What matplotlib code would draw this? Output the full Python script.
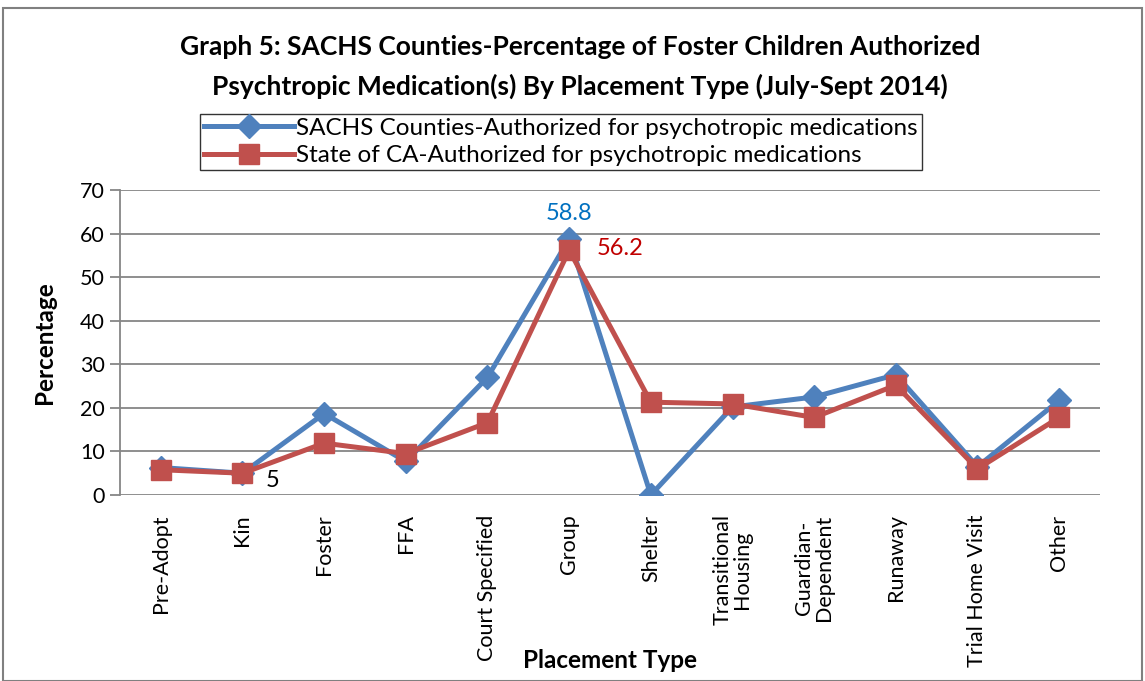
import matplotlib
matplotlib.use("Agg")
import matplotlib.pyplot as plt
from matplotlib.patches import Rectangle

plt.rcParams['font.family'] = ['Lato', 'DejaVu Sans']

categories = ["Pre-Adopt", "Kin", "Foster", "FFA", "Court Specified", "Group", "Shelter",
              "Transitional\nHousing", "Guardian-\nDependent", "Runaway", "Trial Home Visit", "Other"]
sachs = [6.3, 5.0, 18.7, 7.7, 27.0, 58.8, 0.0, 20.2, 22.5, 27.6, 6.5, 21.7]
state = [5.8, 5.0, 11.9, 9.5, 16.6, 56.2, 21.3, 20.9, 17.8, 25.2, 6.0, 17.8]
sachs_label = "SACHS Counties-Authorized for psychotropic medications"
state_label = "State of CA-Authorized for psychotropic medications"
yticks = [0, 10, 20, 30, 40, 50, 60, 70]

fig = plt.figure(figsize=(11.45, 6.81), dpi=100)
fig.patches.append(Rectangle((3/1145, 0), 1139/1145, 1 - 8/681, transform=fig.transFigure,
                             fill=False, edgecolor='#808080', linewidth=1.5))

ax = fig.add_axes([120/1145, 1 - 495/681, 980/1145, 305/681])
x = list(range(len(categories)))
ax.plot(x, sachs, color='#4F81BD', linewidth=3.6, marker='D', markersize=12, label=sachs_label, zorder=3)
ax.plot(x, state, color='#C0504D', linewidth=3.6, marker='s', markersize=14, label=state_label, zorder=4)

ax.set_xlim(-0.5, len(categories) - 0.5)
ax.set_ylim(0, 70)
ax.set_yticks(yticks)
ax.set_xticks(x)
ax.set_xticklabels(categories, rotation=90, fontsize=15.5, linespacing=1.0)
ax.tick_params(axis='y', labelsize=15.5, length=7, color='#868686', width=1.3, pad=4)
ax.tick_params(axis='x', length=0, pad=14)
ax.grid(axis='y', color='#868686', linewidth=1.3)
ax.set_axisbelow(True)
for s in ['top', 'right', 'bottom']:
    ax.spines[s].set_visible(False)
ax.spines['left'].set_color('#868686')
ax.spines['left'].set_linewidth(1.3)

ax.set_ylabel("Percentage", fontsize=17.5, fontweight='bold', va='center')
ax.yaxis.set_label_coords((45 - 120) / 980, 0.5)
ax.set_xlabel("Placement Type", fontsize=17.5, fontweight='bold', va='center')
ax.xaxis.set_label_coords(0.5, (495 - 661) / 305)

gi = categories.index("Group")
ki = categories.index("Kin")
ax.annotate(f"{sachs[gi]}", (gi, sachs[gi]), xytext=(0, 11), textcoords='offset points',
            ha='center', va='bottom', color='#0070C0', fontsize=17)
ax.annotate(f"{state[gi]}", (gi, state[gi]), xytext=(20, 1), textcoords='offset points',
            ha='left', va='center', color='#C00000', fontsize=17)
ax.annotate(f"{state[ki]:g}", (ki, state[ki]), xytext=(17, -5), textcoords='offset points',
            ha='left', va='center', color='black', fontsize=17)

fig.text(580/1145, 1 - 47/681, "Graph 5: SACHS Counties-Percentage of Foster Children Authorized",
         ha='center', va='center', fontsize=19, fontweight='bold')
fig.text(580/1145, 1 - 86/681, "Psychtropic Medication(s) By Placement Type (July-Sept 2014)",
         ha='center', va='center', fontsize=19, fontweight='bold')

leg = fig.legend(loc='center', bbox_to_anchor=(561/1145, 1 - 142/681), fontsize=17.5,
                 frameon=True, fancybox=False, edgecolor='black', handlelength=3.7,
                 borderpad=0.15, labelspacing=0.25, handletextpad=0.1, borderaxespad=0)
leg.get_frame().set_linewidth(1.0)

fig.savefig("out.png", dpi=100)
